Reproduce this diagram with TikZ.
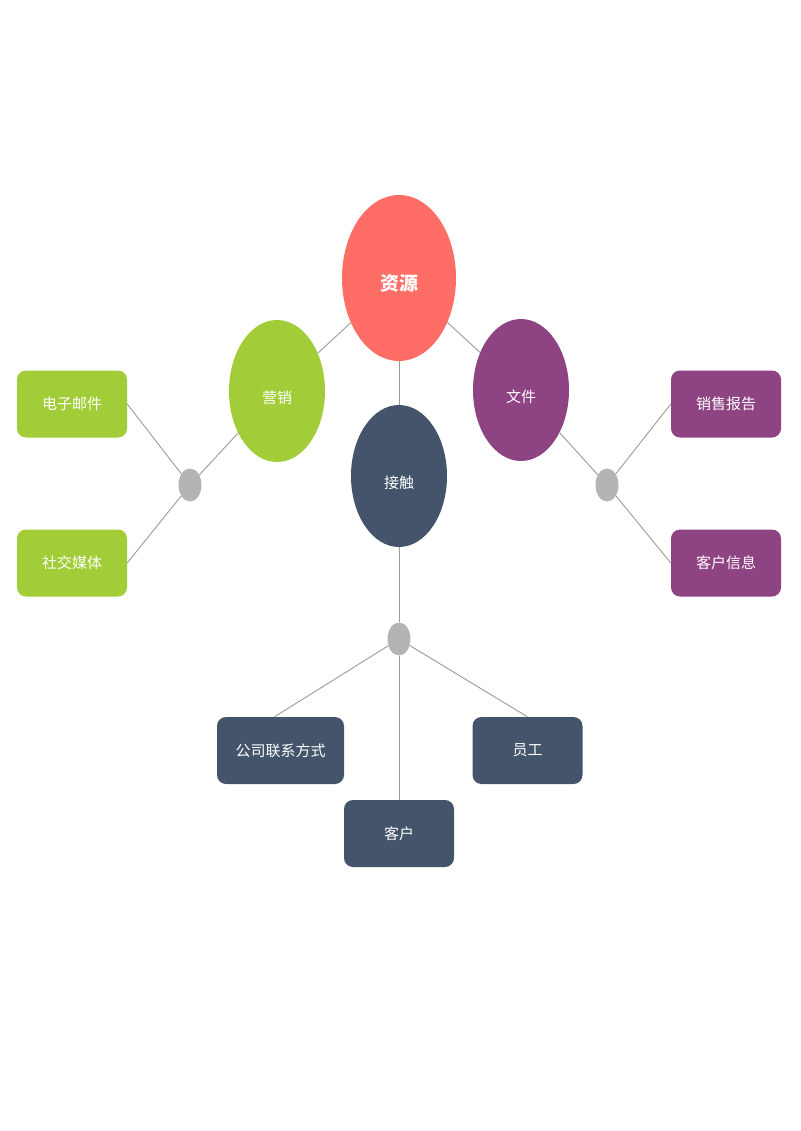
\documentclass[tikz,border=0pt]{standalone}
\usepackage{fontspec}
\setmainfont{Noto Sans CJK SC}
\usetikzlibrary{shapes.geometric}
\definecolor{cred}{HTML}{FF6E66}
\definecolor{cgreen}{HTML}{A2CD38}
\definecolor{cpurple}{HTML}{8E4383}
\definecolor{cdark}{HTML}{44546A}
\definecolor{cdot}{HTML}{B4B4B4}
\definecolor{cline}{HTML}{9A9A9A}
\tikzset{
  oval/.style={ellipse, inner sep=0pt},
  ovaltext/.style={text=white, font=\fontsize{15}{18}\selectfont, yshift=-7pt, inner sep=0pt},
  bigoval/.style={oval, minimum width=96pt, minimum height=142pt},
  dot/.style={ellipse, fill=cdot, inner sep=0pt, minimum width=23pt, minimum height=33pt},
  card/.style={rounded corners=9pt, inner sep=0pt, text=white, minimum width=110pt, minimum height=67pt, font=\fontsize{15}{18}\selectfont},
  link/.style={draw=cline, line width=0.9pt},
}
\begin{document}
\begin{tikzpicture}[x=1pt,y=-1pt]
\useasboundingbox (0,0) rectangle (800,1131);
% main nodes
\node[oval, fill=cred, minimum width=114pt, minimum height=166pt,
  label={[ovaltext, yshift=2pt, font=\fontsize{19}{22}\selectfont\bfseries]center:资源}] (res) at (399,278) {};
\node[bigoval, fill=cgreen, label={[ovaltext]center:营销}] (mkt) at (277,391) {};
\node[bigoval, fill=cpurple, label={[ovaltext]center:文件}] (doc) at (521,390) {};
\node[bigoval, fill=cdark, label={[ovaltext]center:接触}] (con) at (399,476) {};
% dots
\node[dot] (gl) at (190,485) {};
\node[dot] (gr) at (607,485) {};
\node[dot] (gb) at (399,639) {};
% cards
\node[card, fill=cgreen] (email) at (72,404) {电子邮件};
\node[card, fill=cgreen] (social) at (72,563) {社交媒体};
\node[card, fill=cpurple] (sales) at (726,404) {销售报告};
\node[card, fill=cpurple] (cinfo) at (726,563) {客户信息};
\node[card, fill=cdark, minimum width=127pt] (company) at (280.5,750.5) {公司联系方式};
\node[card, fill=cdark] (staff) at (527.5,750.5) {员工};
\node[card, fill=cdark] (cust) at (399,833.5) {客户};
% connectors
\path[link] (res) -- (mkt);
\path[link] (res) -- (doc);
\path[link] (res) -- (con);
\path[link] (mkt) -- (gl);
\path[link] (gl) -- (email.east);
\path[link] (gl) -- (social.east);
\path[link] (doc) -- (gr);
\path[link] (gr) -- (sales.west);
\path[link] (gr) -- (cinfo.west);
\path[link] (con) -- (gb);
\path[link] (gb) -- ([xshift=-6pt]company.north);
\path[link] (gb) -- (staff.north);
\path[link] (gb) -- (cust.north);
\end{tikzpicture}
\end{document}
